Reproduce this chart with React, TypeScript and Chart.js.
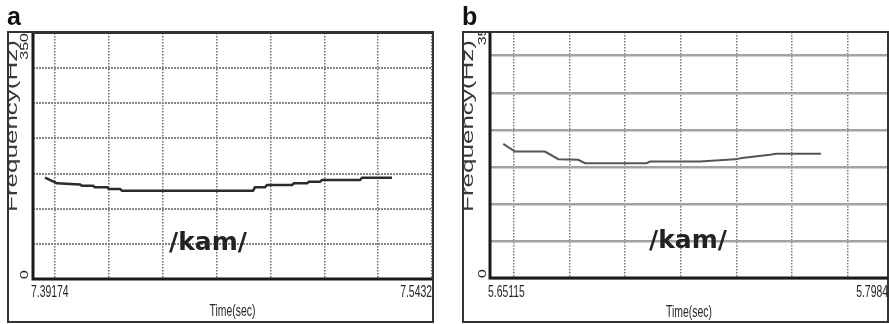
import React, { useEffect, useRef } from "react";
import { Chart, registerables } from "chart.js";

Chart.register(...registerables);

// ---------- data ----------
const timeA = [
  7.3963, 7.40085, 7.40958, 7.41034, 7.41452, 7.41528, 7.41983, 7.42059, 7.42477, 7.42553,
  7.47525, 7.47601, 7.47981, 7.48057, 7.49006, 7.49082, 7.49575, 7.49651, 7.50069, 7.50145,
  7.51587, 7.51663, 7.52802,
];
const freqA = [
  144.1, 136.2, 134.5, 132.5, 132.5, 130.5, 130.5, 128, 128, 125.6,
  125.6, 130.5, 130.5, 133.7, 133.7, 136.2, 136.2, 138.5, 138.5, 140.9,
  140.9, 144.1, 144.1,
];
const timeB = [
  5.65607, 5.6604, 5.6715, 5.67642, 5.68382, 5.6863, 5.70912, 5.71035, 5.72884, 5.74179,
  5.74438, 5.75474, 5.75696, 5.77361,
];
const freqB = [
  181.1, 170.7, 170.7, 160.4, 159.5, 155, 155, 157.2, 157.2, 160.1,
  161.8, 166.2, 167.8, 167.8,
];

const xRangeA = [7.39174, 7.5432];
const xRangeB = [5.65115, 5.7984];
const yRangeA = [0, 350];
const yRangeB = [0, 332];
const gridTimesA = [7.40009, 7.42054, 7.44098, 7.46143, 7.48187, 7.50232, 7.52276, 7.5432];
const gridTimesB = [5.66003, 5.6806, 5.70117, 5.72174, 5.74231, 5.76288, 5.78345];
const freqTicksA = [0, 50, 100, 150, 200, 250, 300, 350];
const freqTicksB = [0, 50, 100, 150, 200, 250, 300];
const xTickLabelsA = ["7.39174", "7.5432"];
const xTickLabelsB = ["5.65115", "5.7984"];
const yTickLabels = ["0", "350"];
const yTickValues = [0, 350];
const panelLetters = ["a", "b"];
const syllable = "/kam/";
const xTitle = "Time(sec)";
const yTitle = "Frequency(Hz)";

// ---------- panel styles / layout ----------
type Panel = {
  left: number;
  width: number;
  padding: { left: number; top: number; right: number; bottom: number };
  box: [number, number, number, number];
  letter: string;
  letterPos: [number, number];
  titlePos: [number, number];
  yLabelX: number;
  syllablePos: [number, number];
  times: number[];
  freqs: number[];
  xRange: number[];
  yRange: number[];
  gridTimes: number[];
  freqTicks: number[];
  xLabels: string[];
  hGrid: { color: string; width: number; dash: number[] };
  vGrid: { color: string; width: number; dash: number[] };
  lineColor: string;
  lineWidth: number;
  xTitleBaseline: number;
};

const panels: Panel[] = [
  {
    left: 0,
    width: 445,
    padding: { left: 33, top: 33, right: 13, bottom: 45 },
    box: [8, 32, 433, 322],
    letter: panelLetters[0],
    letterPos: [7, 25],
    titlePos: [17, 126],
    yLabelX: 28,
    syllablePos: [208, 250],
    times: timeA,
    freqs: freqA,
    xRange: xRangeA,
    yRange: yRangeA,
    gridTimes: gridTimesA,
    freqTicks: freqTicksA,
    xLabels: xTickLabelsA,
    hGrid: { color: "#858585", width: 2, dash: [2, 1] },
    vGrid: { color: "#6e6e6e", width: 1.5, dash: [1.5, 1.5] },
    lineColor: "#2b2b2b",
    lineWidth: 2.5,
    xTitleBaseline: 316,
  },
  {
    left: 445,
    width: 444,
    padding: { left: 45, top: 32, right: 1, bottom: 46 },
    box: [18, 32, 443, 322],
    letter: panelLetters[1],
    letterPos: [17, 25],
    titlePos: [28, 126],
    yLabelX: 41,
    syllablePos: [243, 248],
    times: timeB,
    freqs: freqB,
    xRange: xRangeB,
    yRange: yRangeB,
    gridTimes: gridTimesB,
    freqTicks: freqTicksB,
    xLabels: xTickLabelsB,
    hGrid: { color: "#a3a3a3", width: 2.5, dash: [] },
    vGrid: { color: "#7a7a7a", width: 1.5, dash: [1.5, 1.5] },
    lineColor: "#555555",
    lineWidth: 2,
    xTitleBaseline: 317,
  },
];

const H = 324;
const SMALL_FONT = "16px 'Liberation Sans', Arial, sans-serif";
const SQUEEZE = 0.65;

function drawSqueezed(ctx: CanvasRenderingContext2D, text: string, x: number, y: number, align: CanvasTextAlign, font: string) {
  ctx.save();
  ctx.translate(x, y);
  ctx.scale(SQUEEZE, 1);
  ctx.font = font;
  ctx.textAlign = align;
  ctx.textBaseline = "alphabetic";
  ctx.fillText(text, 0, 0);
  ctx.restore();
}

function drawRotated(ctx: CanvasRenderingContext2D, text: string, x: number, y: number, align: CanvasTextAlign, font: string) {
  ctx.save();
  ctx.translate(x, y);
  ctx.rotate(-Math.PI / 2);
  ctx.scale(1, SQUEEZE);
  ctx.font = font;
  ctx.textAlign = align;
  ctx.textBaseline = "alphabetic";
  ctx.fillText(text, 0, 0);
  ctx.restore();
}

function makePlugin(p: Panel) {
  return {
    id: "decor",
    afterDraw(chart: any) {
      const ctx: CanvasRenderingContext2D = chart.ctx;
      const area = chart.chartArea;
      const xs = chart.scales.x;
      const ys = chart.scales.y;
      const [bx0, by0, bx1, by1] = p.box;
      ctx.save();

      // y title, cut by the box's left edge
      ctx.save();
      ctx.beginPath();
      ctx.rect(bx0 + 1, by0 + 1, area.left - bx0 - 2, by1 - by0 - 2);
      ctx.clip();
      ctx.fillStyle = "#3a3a3a";
      drawRotated(ctx, yTitle, p.titlePos[0], p.titlePos[1], "center", "26px 'Liberation Sans', Arial, sans-serif");
      ctx.restore();

      // outer box
      ctx.strokeStyle = "#333";
      ctx.lineWidth = 2;
      ctx.strokeRect(bx0, by0, bx1 - bx0, by1 - by0);
      // axes
      ctx.strokeStyle = "#1a1a1a";
      ctx.lineWidth = 3;
      ctx.beginPath();
      ctx.moveTo(area.left, area.top);
      ctx.lineTo(area.left, area.bottom);
      ctx.lineTo(area.right, area.bottom);
      ctx.stroke();
      ctx.lineWidth = 2;
      ctx.strokeStyle = "#333";
      ctx.beginPath();
      ctx.moveTo(area.left, area.top);
      ctx.lineTo(area.right, area.top);
      ctx.stroke();

      ctx.fillStyle = "#262626";
      // x tick labels
      drawSqueezed(ctx, p.xLabels[0], xs.getPixelForValue(p.xRange[0]) - 2, 297, "left", SMALL_FONT);
      drawSqueezed(ctx, p.xLabels[1], xs.getPixelForValue(p.xRange[1]), 297, "right", SMALL_FONT);
      // x title
      drawSqueezed(ctx, xTitle, (area.left + area.right) / 2, p.xTitleBaseline, "center", SMALL_FONT);

      // y tick labels, clipped to box
      ctx.save();
      ctx.beginPath();
      ctx.rect(0, by0 + 1, chart.width, H);
      ctx.clip();
      drawRotated(ctx, yTickLabels[0], p.yLabelX, ys.getPixelForValue(yTickValues[0]), "left", SMALL_FONT);
      drawRotated(ctx, yTickLabels[1], p.yLabelX, ys.getPixelForValue(yTickValues[1]), "right", SMALL_FONT);
      ctx.restore();

      // panel letter
      ctx.fillStyle = "#111";
      ctx.font = "bold 25px 'Liberation Sans', Arial, sans-serif";
      ctx.textAlign = "left";
      ctx.textBaseline = "alphabetic";
      ctx.fillText(p.letter, p.letterPos[0], p.letterPos[1]);

      // syllable
      ctx.fillStyle = "#222";
      ctx.font = "bold 25px 'DejaVu Sans', sans-serif";
      ctx.textAlign = "center";
      ctx.fillText(syllable, p.syllablePos[0], p.syllablePos[1]);
      ctx.restore();
    },
  };
}

function PanelChart({ p }: { p: Panel }) {
  const ref = useRef<HTMLCanvasElement | null>(null);
  useEffect(() => {
    if (!ref.current) return;
    const chart = new Chart(ref.current, {
      type: "line",
      data: {
        datasets: [
          {
            data: p.times.map((t, i) => ({ x: t, y: p.freqs[i] })),
            borderColor: p.lineColor,
            borderWidth: p.lineWidth,
            pointRadius: 0,
            tension: 0,
            fill: false,
          },
        ],
      },
      options: {
        animation: false,
        responsive: false,
        devicePixelRatio: 1,
        layout: { padding: p.padding },
        plugins: { legend: { display: false }, tooltip: { enabled: false } },
        events: [],
        scales: {
          x: {
            type: "linear",
            min: p.xRange[0],
            max: p.xRange[1],
            afterBuildTicks: (scale: any) => {
              scale.ticks = p.gridTimes.map((v) => ({ value: v }));
            },
            afterFit: (scale: any) => {
              scale.height = 0;
            },
            ticks: { display: false },
            grid: { color: p.vGrid.color, lineWidth: p.vGrid.width, drawTicks: false },
            border: { display: false, dash: p.vGrid.dash },
          },
          y: {
            type: "linear",
            min: p.yRange[0],
            max: p.yRange[1],
            afterBuildTicks: (scale: any) => {
              scale.ticks = p.freqTicks.map((v) => ({ value: v }));
            },
            afterFit: (scale: any) => {
              scale.width = 0;
            },
            ticks: { display: false },
            grid: { color: p.hGrid.color, lineWidth: p.hGrid.width, drawTicks: false },
            border: { display: false, dash: p.hGrid.dash },
          },
        },
      } as any,
      plugins: [makePlugin(p)],
    });
    return () => chart.destroy();
  }, [p]);
  return (
    <canvas
      ref={ref}
      width={p.width}
      height={H}
      style={{ position: "absolute", left: p.left, top: 0, width: p.width, height: H }}
    />
  );
}

export default function App() {
  return (
    <div style={{ position: "fixed", left: 0, top: 0, width: 889, height: H, background: "#fff" }}>
      {panels.map((p, i) => (
        <PanelChart key={i} p={p} />
      ))}
    </div>
  );
}
